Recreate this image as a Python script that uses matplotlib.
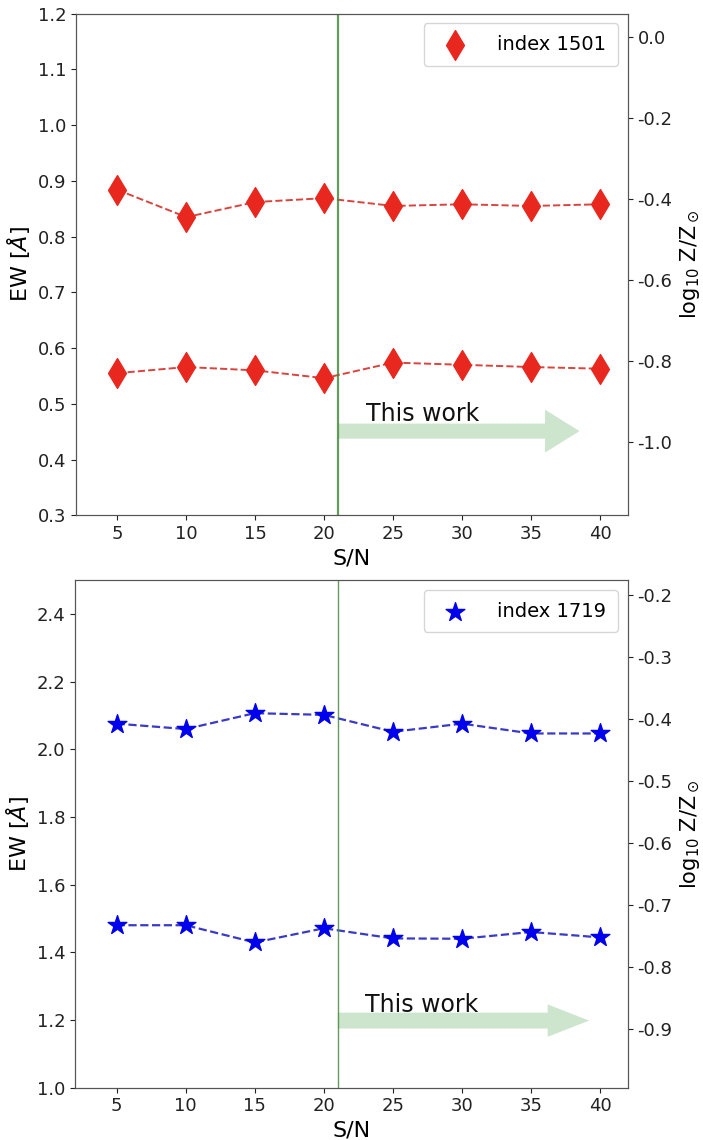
import matplotlib
matplotlib.use("Agg")
import matplotlib.pyplot as plt

plt.rcParams['axes.unicode_minus'] = False
plt.rcParams['font.family'] = ['DejaVu Sans']

sn = [5, 10, 15, 20, 25, 30, 35, 40]
ew1501_high = [0.884, 0.835, 0.862, 0.869, 0.855, 0.858, 0.855, 0.858]
ew1501_low = [0.555, 0.566, 0.560, 0.546, 0.574, 0.570, 0.566, 0.563]
ew1719_high = [2.076, 2.060, 2.107, 2.102, 2.052, 2.076, 2.047, 2.047]
ew1719_low = [1.480, 1.480, 1.429, 1.471, 1.441, 1.440, 1.460, 1.444]

top_left_ticks = [0.3, 0.4, 0.5, 0.6, 0.7, 0.8, 0.9, 1.0, 1.1, 1.2]
top_right_ticks = [0.0, -0.2, -0.4, -0.6, -0.8, -1.0]
bot_left_ticks = [1.0, 1.2, 1.4, 1.6, 1.8, 2.0, 2.2, 2.4]
bot_right_ticks = [-0.2, -0.3, -0.4, -0.5, -0.6, -0.7, -0.8, -0.9]

fig = plt.figure(figsize=(7.03, 11.4), dpi=100)
ax1 = fig.add_axes([0.108, 0.548, 0.785, 0.440])
ax2 = fig.add_axes([0.107, 0.046, 0.786, 0.445])

spine_col = '#555555'

def style(ax):
    for s in ax.spines.values():
        s.set_color(spine_col)
    ax.tick_params(labelsize=13, colors='#222222')

# Top panel
for series in (ew1501_high, ew1501_low):
    ax1.plot(sn, series, ls='--', color='#d9443f', lw=1.4, zorder=2)
ax1.scatter(sn, ew1501_high, marker='d', s=230, color='#e8281e', zorder=3, label='index 1501')
ax1.scatter(sn, ew1501_low, marker='d', s=230, color='#e8281e', zorder=3)
ax1.axvline(21, color='#4a8a40', lw=1.6, alpha=0.85)
ax1.arrow(21, 0.451, 15, 0, width=0.027, head_width=0.077, head_length=2.5,
          color='green', alpha=0.2, lw=0)
ax1.text(23.0, 0.470, 'This work', fontsize=17, color='#111111')
ax1.set_xlim(2, 42)
ax1.set_ylim(0.3, 1.2)
ax1.set_xticks(sn)
ax1.set_yticks(top_left_ticks)
ax1.set_xlabel('S/N', fontsize=16)
ax1.set_ylabel('EW [$\\AA$]', fontsize=16)
ax1.legend(loc='upper right', fontsize=14, scatterpoints=1, borderpad=0.6,
           handletextpad=1.2)
style(ax1)
ax1r = ax1.twinx()
ax1r.set_ylim(-1.18, 0.057)
ax1r.set_yticks(top_right_ticks)
ax1r.set_ylabel('log$_{10}$ Z/Z$_\\odot$', fontsize=15)
style(ax1r)

# Bottom panel
for series in (ew1719_high, ew1719_low):
    ax2.plot(sn, series, ls='--', color='#3a3ac8', lw=1.6, zorder=2)
ax2.scatter(sn, ew1719_high, marker='*', s=200, color='#0000ee', zorder=3, label='index 1719')
ax2.scatter(sn, ew1719_low, marker='*', s=200, color='#0000ee', zorder=3)
ax2.axvline(21, color='#4a8a40', lw=1.0, alpha=0.85)
ax2.arrow(21, 1.198, 15.2, 0, width=0.047, head_width=0.096, head_length=3.0,
          color='green', alpha=0.2, lw=0)
ax2.text(23.0, 1.222, 'This work', fontsize=17, color='#111111')
ax2.set_xlim(2, 42)
ax2.set_ylim(1.0, 2.5)
ax2.set_xticks(sn)
ax2.set_yticks(bot_left_ticks)
ax2.set_xlabel('S/N', fontsize=16)
ax2.set_ylabel('EW [$\\AA$]', fontsize=16)
ax2.legend(loc='upper right', fontsize=14, scatterpoints=1, borderpad=0.6,
           handletextpad=1.2)
style(ax2)
ax2r = ax2.twinx()
ax2r.set_ylim(-0.995, -0.177)
ax2r.set_yticks(bot_right_ticks)
ax2r.set_ylabel('log$_{10}$ Z/Z$_\\odot$', fontsize=15)
style(ax2r)

fig.savefig('out.png', dpi=100)
